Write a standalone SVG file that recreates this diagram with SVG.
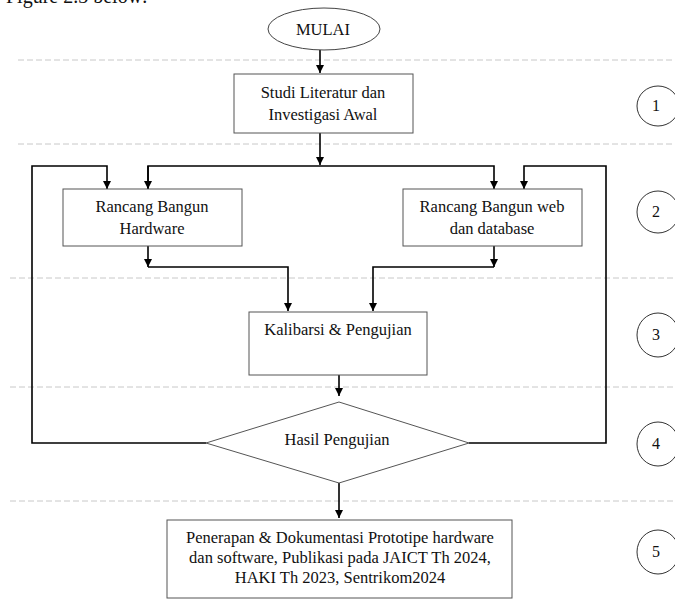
<svg xmlns="http://www.w3.org/2000/svg" width="675" height="604" viewBox="0 0 675 604" font-family="'Liberation Serif', 'Times New Roman', serif">
<style>
text{font-family:'Liberation Serif','Times New Roman',serif;font-size:16.5px;fill:#111;text-anchor:middle}
text.n{font-size:16px}
.box{fill:#fff;stroke:#555;stroke-width:1}
.sep{stroke:#c8c8c8;stroke-width:1;stroke-dasharray:6 3;fill:none}
.c{fill:none;stroke:#000;stroke-width:1.6}
.num{fill:#fff;stroke:#333;stroke-width:1}
</style>
<defs>
<marker id="ah" viewBox="0 0 10 10" refX="10" refY="5" markerWidth="9" markerHeight="8" markerUnits="userSpaceOnUse" orient="auto">
<path d="M0,0 L10,5 L0,10 z" fill="#000"/>
</marker>
</defs>
<rect width="675" height="604" fill="#fff"/>
<text x="6" y="3" style="text-anchor:start;font-size:20px">Figure 2.3 below:</text>
<g id="separators">
<line class="sep" x1="18" y1="60" x2="675" y2="60"/>
<line class="sep" x1="18" y1="144" x2="675" y2="144"/>
<line class="sep" x1="10" y1="278" x2="675" y2="278"/>
<line class="sep" x1="10" y1="387" x2="675" y2="387"/>
<line class="sep" x1="10" y1="501" x2="675" y2="501"/>
</g>
<g id="connectors">
<path class="c" d="M320,50 V73" marker-end="url(#ah)"/>
<path class="c" d="M320,133 V165" marker-end="url(#ah)"/>
<path class="c" d="M148,189 V166 H494 V189" marker-end="url(#ah)"/>
<path class="c" d="M148,166 V189" marker-end="url(#ah)"/>
<path class="c" d="M206,443 H32 V166 H107 V189" marker-end="url(#ah)"/>
<path class="c" d="M469,443 H606 V166 H524 V189" marker-end="url(#ah)"/>
<path class="c" d="M148,246 V267" marker-end="url(#ah)"/>
<path class="c" d="M148,267 H288 V311" marker-end="url(#ah)"/>
<path class="c" d="M494,246 V267" marker-end="url(#ah)"/>
<path class="c" d="M494,267 H373 V311" marker-end="url(#ah)"/>
<path class="c" d="M339,375 V396" marker-end="url(#ah)"/>
<path class="c" d="M339,483 V518" marker-end="url(#ah)"/>
</g>
<g id="mulai">
<ellipse cx="324" cy="29" rx="56" ry="21" fill="#fff" stroke="#444" stroke-width="1"/>
<text x="323" y="35">MULAI</text>
</g>
<g id="studi">
<rect class="box" x="234" y="74" width="179" height="59"/>
<text x="323" y="98">Studi Literatur dan</text>
<text x="323" y="120">Investigasi Awal</text>
</g>
<g id="hardware">
<rect class="box" x="63" y="189" width="179" height="57"/>
<text x="152" y="212">Rancang Bangun</text>
<text x="152" y="234">Hardware</text>
</g>
<g id="web">
<rect class="box" x="403" y="189" width="179" height="57"/>
<text x="492" y="212">Rancang Bangun web</text>
<text x="492" y="234">dan database</text>
</g>
<g id="kalibrasi">
<rect class="box" x="249" y="312" width="178" height="63"/>
<text x="338" y="335">Kalibarsi &amp; Pengujian</text>
</g>
<g id="hasil">
<polygon points="339,402 469,443 339,483 206,443" fill="#fff" stroke="#555" stroke-width="1"/>
<text x="337" y="445">Hasil Pengujian</text>
</g>
<g id="penerapan">
<rect class="box" x="167" y="520" width="345" height="78"/>
<text x="340" y="543">Penerapan &amp; Dokumentasi Prototipe hardware</text>
<text x="340" y="563">dan software, Publikasi pada JAICT Th 2024,</text>
<text x="340" y="583">HAKI Th 2023, Sentrikom2024</text>
</g>
<g id="steps">
<ellipse class="num" cx="658" cy="106" rx="21" ry="20"/><text class="n" x="656" y="111">1</text>
<ellipse class="num" cx="658" cy="212" rx="21" ry="21"/><text class="n" x="656" y="217">2</text>
<ellipse class="num" cx="658" cy="335" rx="21" ry="22"/><text class="n" x="656" y="340">3</text>
<ellipse class="num" cx="658" cy="444" rx="21" ry="22"/><text class="n" x="656" y="449">4</text>
<ellipse class="num" cx="658" cy="552" rx="21" ry="22"/><text class="n" x="656" y="557">5</text>
</g>
</svg>
